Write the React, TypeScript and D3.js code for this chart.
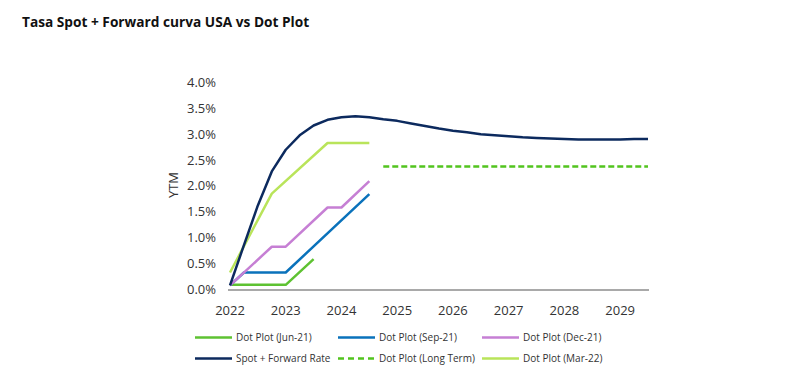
import React from "react";
import * as d3 from "d3";

type Pt = [number, number];

const spotForward: Pt[] = [
  [2022.0, 0.07], [2022.25, 0.85], [2022.5, 1.62], [2022.75, 2.28], [2023.0, 2.7],
  [2023.25, 2.98], [2023.5, 3.17], [2023.75, 3.28], [2024.0, 3.33], [2024.25, 3.35],
  [2024.5, 3.33], [2024.75, 3.29], [2025.0, 3.26], [2025.25, 3.21], [2025.5, 3.16],
  [2025.75, 3.11], [2026.0, 3.07], [2026.25, 3.04], [2026.5, 3.0], [2026.75, 2.98],
  [2027.0, 2.96], [2027.25, 2.94], [2027.5, 2.93], [2027.75, 2.92], [2028.0, 2.91],
  [2028.25, 2.9], [2028.5, 2.9], [2028.75, 2.9], [2029.0, 2.9], [2029.25, 2.91], [2029.5, 2.91],
];
const dotJun21: Pt[] = [[2022.0, 0.08], [2023.0, 0.08], [2023.5, 0.58]];
const dotSep21: Pt[] = [[2022.0, 0.07], [2022.25, 0.32], [2023.0, 0.32], [2024.5, 1.84]];
const dotDec21: Pt[] = [[2022.0, 0.07], [2022.75, 0.82], [2023.0, 0.82], [2023.75, 1.58], [2024.0, 1.58], [2024.5, 2.09]];
const dotMar22: Pt[] = [[2022.0, 0.32], [2022.75, 1.85], [2023.75, 2.83], [2024.5, 2.83]];
const dotLongTerm: Pt[] = [[2024.75, 2.375], [2029.5, 2.375]];

const yTicks = [0, 0.5, 1, 1.5, 2, 2.5, 3, 3.5, 4];
const xTicks = [2022, 2023, 2024, 2025, 2026, 2027, 2028, 2029];

const series = [
  { name: "Dot Plot (Jun-21)", data: dotJun21, color: "#5ec232", dash: "" },
  { name: "Dot Plot (Sep-21)", data: dotSep21, color: "#0a72bb", dash: "" },
  { name: "Dot Plot (Dec-21)", data: dotDec21, color: "#c67fd4", dash: "" },
  { name: "Spot + Forward Rate", data: spotForward, color: "#0c2a5e", dash: "" },
  { name: "Dot Plot (Long Term)", data: dotLongTerm, color: "#52c41e", dash: "6,3" },
  { name: "Dot Plot (Mar-22)", data: dotMar22, color: "#b9e45a", dash: "" },
];

const drawOrder = [0, 1, 2, 5, 4, 3];

export default function App() {
  const x = d3.scaleLinear().domain([2022, 2029.5]).range([230, 648]);
  const y = d3.scaleLinear().domain([0, 4]).range([289, 82.7]);
  const line = d3
    .line<Pt>()
    .x((d) => x(d[0]))
    .y((d) => y(d[1]));
  const font = "'Open Sans', 'Noto Sans', sans-serif";
  const legendCols = [195, 338, 482];
  const legendRows = [337.5, 358.5];

  return (
    <svg
      width={800}
      height={382}
      style={{ position: "absolute", left: 0, top: 0, background: "#fff" }}
      fontFamily={font}
    >
      <text x={22} y={27} fontSize={13.7} fontWeight={700} fill="#111">
        Tasa Spot + Forward curva USA vs Dot Plot
      </text>
      {yTicks.map((t) => (
        <text key={t} x={216} y={y(t)} dy="0.35em" textAnchor="end" fontSize={13} fill="#333">
          {d3.format(".1%")(t / 100)}
        </text>
      ))}
      {xTicks.map((t) => (
        <text key={t} x={x(t)} y={310} dy="0.35em" textAnchor="middle" fontSize={13} fill="#333">
          {t}
        </text>
      ))}
      <text
        transform={`translate(178,185) rotate(-90)`}
        textAnchor="middle"
        fontSize={13}
        fill="#333"
      >
        YTM
      </text>
      <line x1={228} x2={649} y1={290} y2={290} stroke="#8c8c8c" strokeWidth={1.5} />
      {drawOrder.map((i) => {
        const s = series[i];
        return (
          <path
            key={s.name}
            d={line(s.data) || ""}
            fill="none"
            stroke={s.color}
            strokeWidth={2.5}
            strokeDasharray={s.dash || undefined}
            strokeLinejoin="round"
          />
        );
      })}
      {series.map((s, i) => {
        const cx = legendCols[i % 3];
        const cy = legendRows[Math.floor(i / 3)];
        return (
          <g key={s.name}>
            <line
              x1={cx}
              x2={cx + 37}
              y1={cy}
              y2={cy}
              stroke={s.color}
              strokeWidth={2.5}
              strokeDasharray={s.dash ? "6,4" : undefined}
            />
            <text x={cx + 41} y={cy} dy="0.35em" fontSize={10} fill="#333">
              {s.name}
            </text>
          </g>
        );
      })}
    </svg>
  );
}
